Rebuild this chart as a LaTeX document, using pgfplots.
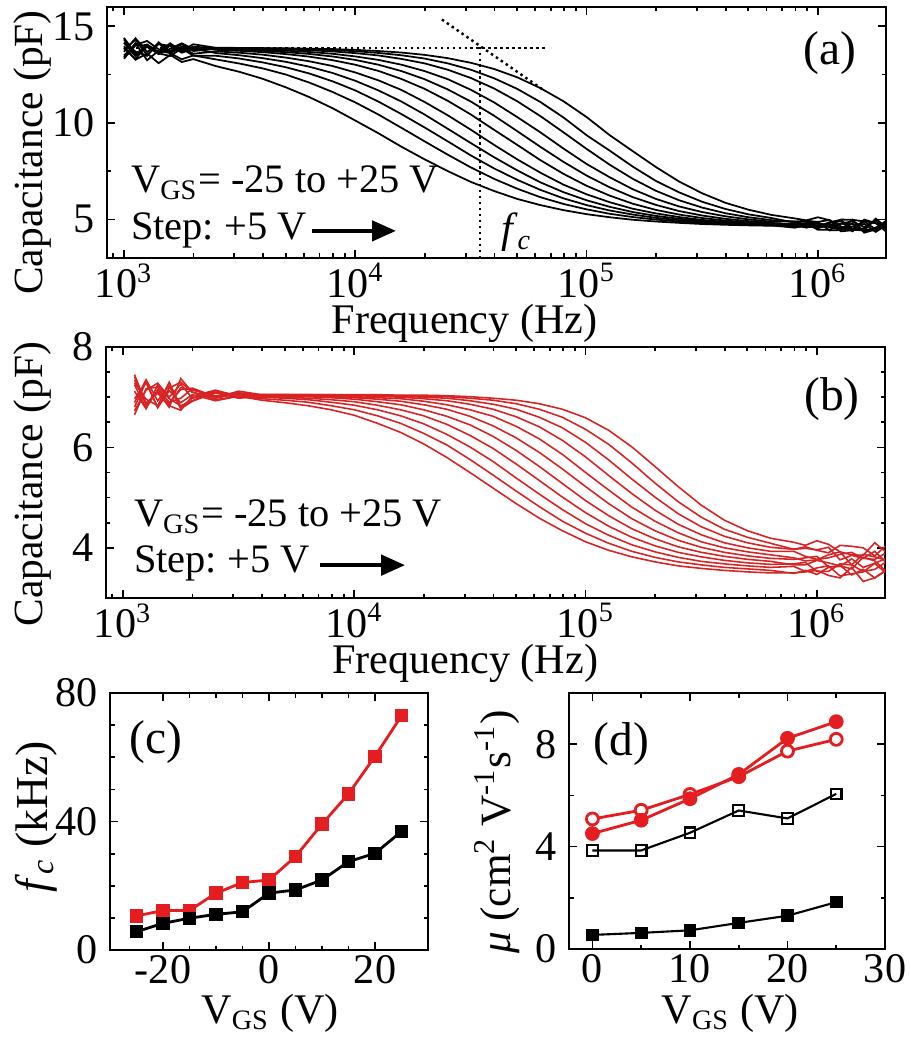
\documentclass[border=0pt]{standalone}
\usepackage{fontspec}
\setmainfont{Liberation Serif}
\usepackage{pgfplots}
\usepackage{pgfplotstable}
\pgfplotsset{compat=1.18}
\usetikzlibrary{arrows.meta}
\frenchspacing

\definecolor{cred}{RGB}{228,30,32}
\definecolor{bred}{RGB}{215,35,35}

% C(f) curves, V_GS = -25 ... +25 V (c0 ... c10)
\pgfplotstableread{
f c0 c1 c2 c3 c4 c5 c6 c7 c8 c9 c10
1e3 13.97 13.41 13.87 13.32 14.15 14.32 13.68 13.49 14.15 13.80 14.40
1.122e3 13.27 14.13 13.30 14.01 13.69 13.52 14.38 14.04 13.45 14.30 13.60
1.259e3 13.59 13.24 14.05 14.03 13.47 13.94 13.67 14.24 14.05 13.50 13.94
1.413e3 13.09 13.74 13.60 13.56 14.17 13.57 14.12 13.81 13.68 14.08 13.58
1.585e3 13.52 13.61 13.46 14.01 13.68 14.02 13.59 13.72 14.12 13.98 13.84
1.778e3 13.15 13.29 13.85 13.63 13.90 13.78 13.95 14.07 13.70 13.74 14.12
1.995e3 13.30 13.49 13.48 13.84 13.58 13.93 13.82 13.72 13.94 14.07 13.82
2.512e3 12.93 13.28 13.47 13.61 13.70 13.78 13.82 13.84 13.87 13.88 13.89
3.162e3 12.64 13.07 13.33 13.50 13.63 13.73 13.78 13.82 13.85 13.87 13.88
3.981e3 12.28 12.82 13.13 13.35 13.53 13.66 13.73 13.79 13.83 13.86 13.87
5.012e3 11.84 12.50 12.88 13.16 13.38 13.56 13.66 13.74 13.80 13.84 13.86
6.310e3 11.34 12.09 12.56 12.91 13.19 13.43 13.57 13.67 13.76 13.81 13.84
7.943e3 10.77 11.61 12.16 12.59 12.95 13.25 13.44 13.58 13.70 13.77 13.82
1e4 10.12 11.06 11.68 12.18 12.61 13.01 13.26 13.44 13.61 13.71 13.78
1.259e4 9.46 10.43 11.10 11.68 12.20 12.69 13.01 13.26 13.49 13.62 13.72
1.585e4 8.76 9.74 10.45 11.10 11.70 12.27 12.68 13.01 13.31 13.50 13.64
1.995e4 8.11 9.04 9.76 10.43 11.08 11.76 12.26 12.68 13.08 13.33 13.52
2.512e4 7.50 8.35 9.04 9.69 10.39 11.14 11.73 12.26 12.75 13.08 13.35
3.162e4 6.94 7.69 8.31 8.95 9.64 10.43 11.10 11.71 12.32 12.75 13.11
3.981e4 6.47 7.10 7.64 8.22 8.86 9.64 10.37 11.06 11.78 12.31 12.79
5.012e4 6.06 6.59 7.05 7.54 8.11 8.86 9.57 10.30 11.12 11.76 12.36
6.310e4 5.74 6.15 6.53 6.92 7.42 8.07 8.76 9.51 10.35 11.08 11.80
7.943e4 5.48 5.80 6.09 6.41 6.80 7.36 7.98 8.67 9.51 10.28 11.12
1e5 5.27 5.52 5.74 5.99 6.30 6.74 7.27 7.87 8.65 9.36 10.30
1.259e5 5.11 5.29 5.46 5.65 5.89 6.23 6.66 7.18 7.83 8.56 9.36
1.585e5 4.98 5.12 5.25 5.38 5.55 5.81 6.15 6.56 7.10 7.73 8.53
1.995e5 4.89 4.99 5.08 5.18 5.31 5.49 5.75 6.06 6.48 6.99 7.71
2.512e5 4.82 4.89 4.96 5.03 5.12 5.25 5.43 5.67 5.99 6.40 6.96
3.162e5 4.76 4.82 4.87 4.92 4.97 5.07 5.20 5.38 5.61 5.91 6.35
3.981e5 4.72 4.76 4.80 4.83 4.87 4.94 5.03 5.16 5.32 5.54 5.86
5.012e5 4.69 4.72 4.74 4.77 4.80 4.84 4.91 5.00 5.11 5.26 5.50
6.310e5 4.67 4.69 4.71 4.72 4.74 4.77 4.82 4.88 4.96 5.07 5.23
7.943e5 4.68 4.57 4.76 4.75 4.61 4.74 4.71 4.89 4.89 4.83 5.05
8.913e5 4.74 4.69 4.57 4.81 4.63 4.80 4.60 4.70 4.93 4.92 4.95
1e6 4.80 4.53 4.70 4.46 4.79 4.87 4.63 4.58 4.87 4.78 5.11
1.122e6 4.59 4.82 4.78 4.46 4.69 4.43 4.85 4.65 4.97 4.66 4.96
1.259e6 4.48 4.91 4.38 4.77 4.56 4.45 4.98 4.79 4.45 4.99 4.63
1.413e6 4.98 4.50 4.44 4.75 4.40 4.80 4.39 4.90 4.63 4.98 4.46
1.585e6 4.31 4.77 4.54 4.43 4.99 4.37 4.91 4.60 4.47 4.89 4.43
1.778e6 4.48 4.35 4.95 4.53 4.81 4.58 4.80 4.95 4.43 4.48 5.04
1.995e6 4.87 4.73 4.46 4.91 4.32 4.85 4.62 4.42 4.77 4.99 4.56
}\tabA

\pgfplotstableread{
f c0 c1 c2 c3 c4 c5 c6 c7 c8 c9 c10
1.122e3 7.35 6.80 7.12 6.65 7.29 7.41 6.89 6.73 7.25 6.97 7.45
1.259e3 6.88 7.31 6.77 7.17 6.96 6.84 7.35 7.14 6.78 7.29 6.87
1.413e3 7.10 6.79 7.24 7.20 6.83 7.10 6.93 7.28 7.15 6.80 7.08
1.585e3 6.80 7.13 6.97 6.89 7.30 6.85 7.23 7.00 6.90 7.18 6.83
1.778e3 7.37 6.89 6.83 7.15 6.80 7.19 6.77 7.26 6.98 7.30 6.74
1.995e3 7.10 7.05 6.93 7.18 6.98 7.14 6.92 6.98 7.17 7.10 7.02
2.512e3 6.95 6.93 7.12 7.01 7.09 7.03 7.09 7.13 6.98 6.99 7.14
3.162e3 7.02 7.02 6.99 7.09 6.98 7.08 7.05 7.00 7.07 7.12 7.02
3.981e3 6.94 6.97 7.00 7.02 7.03 7.04 7.04 7.05 7.05 7.05 7.05
5.012e3 6.89 6.94 6.98 7.00 7.02 7.03 7.04 7.05 7.05 7.05 7.05
6.310e3 6.83 6.90 6.95 6.98 7.01 7.02 7.04 7.04 7.05 7.05 7.05
7.943e3 6.75 6.83 6.90 6.95 6.99 7.01 7.03 7.04 7.04 7.05 7.05
1e4 6.64 6.75 6.84 6.91 6.96 6.99 7.01 7.03 7.04 7.04 7.05
1.259e4 6.48 6.63 6.75 6.84 6.91 6.96 6.99 7.02 7.03 7.04 7.05
1.585e4 6.30 6.48 6.63 6.75 6.85 6.92 6.97 7.00 7.02 7.03 7.04
1.995e4 6.07 6.28 6.47 6.63 6.75 6.85 6.92 6.97 7.00 7.02 7.04
2.512e4 5.80 6.05 6.26 6.46 6.62 6.76 6.85 6.93 6.98 7.01 7.03
3.162e4 5.50 5.76 6.01 6.24 6.45 6.62 6.75 6.86 6.93 6.98 7.01
3.981e4 5.19 5.45 5.72 5.98 6.22 6.43 6.62 6.76 6.86 6.94 6.98
5.012e4 4.88 5.13 5.39 5.67 5.94 6.19 6.42 6.61 6.76 6.87 6.94
6.310e4 4.59 4.82 5.07 5.34 5.62 5.90 6.17 6.41 6.60 6.76 6.87
7.943e4 4.34 4.53 4.76 5.01 5.28 5.57 5.86 6.14 6.39 6.60 6.76
1e5 4.12 4.29 4.48 4.70 4.94 5.22 5.50 5.81 6.10 6.36 6.59
1.259e5 3.95 4.09 4.25 4.43 4.64 4.88 5.15 5.44 5.75 6.06 6.34
1.585e5 3.82 3.93 4.06 4.21 4.38 4.58 4.81 5.08 5.37 5.69 6.01
1.995e5 3.72 3.81 3.92 4.04 4.18 4.34 4.53 4.75 5.01 5.29 5.62
2.512e5 3.64 3.72 3.81 3.91 4.02 4.15 4.30 4.47 4.68 4.92 5.22
3.162e5 3.59 3.66 3.73 3.82 3.91 4.01 4.12 4.26 4.42 4.61 4.85
3.981e5 3.55 3.61 3.68 3.75 3.83 3.91 4.00 4.10 4.23 4.37 4.55
5.012e5 3.52 3.58 3.64 3.70 3.77 3.84 3.92 4.00 4.10 4.21 4.34
6.310e5 3.50 3.55 3.61 3.67 3.73 3.79 3.86 3.93 4.01 4.09 4.19
7.943e5 3.50 3.49 3.63 3.68 3.66 3.77 3.80 3.93 3.97 3.97 4.11
8.913e5 3.52 3.55 3.53 3.71 3.66 3.80 3.74 3.83 3.99 4.02 4.05
1e6 3.55 3.47 3.60 3.53 3.75 3.83 3.76 3.77 3.96 3.95 4.14
1.122e6 3.45 3.61 3.64 3.53 3.70 3.62 3.86 3.80 4.01 3.90 4.07
1.259e6 3.40 3.65 3.44 3.68 3.64 3.63 3.92 3.87 3.76 4.05 3.92
1.413e6 3.61 3.46 3.48 3.66 3.58 3.78 3.66 3.91 3.85 4.03 3.86
1.585e6 3.33 3.57 3.52 3.53 3.81 3.61 3.87 3.79 3.79 4.00 3.85
1.778e6 3.40 3.40 3.69 3.57 3.74 3.69 3.82 3.93 3.77 3.84 4.10
1.995e6 3.56 3.55 3.49 3.72 3.53 3.79 3.75 3.71 3.90 4.05 3.91
}\tabB

\tikzset{
  note/.style={anchor=base west, font=\fontsize{11.5}{13}\selectfont},
  plab/.style={font=\fontsize{13.5}{15}\selectfont},
}

\pgfplotsset{
  panel/.style={
    scale only axis,
    anchor=north west,
    font=\fontsize{12}{14}\selectfont,
    tick label style={font=\fontsize{12}{14}\selectfont},
    xticklabel style={yshift=2pt},
    /pgf/number format/assume math mode=true,
    axis line style={line width=0.6pt},
    major tick length=0.8mm,
    minor tick length=0.45mm,
    every tick/.style={black,line width=0.5pt},
    xlabel style={font=\fontsize{12}{14}\selectfont, anchor=base},
    ylabel style={font=\fontsize{11.8}{14}\selectfont, anchor=center},
  },
  logf/.style={
    xmin=845, xmax=1.97e6,
    xtick={1e3,1e4,1e5,1e6},
    xticklabels={10\textsuperscript{3},10\textsuperscript{4},10\textsuperscript{5},10\textsuperscript{6}},
    minor xtick={900,2e3,3e3,4e3,5e3,6e3,7e3,8e3,9e3,2e4,3e4,4e4,5e4,6e4,7e4,8e4,9e4,
                 2e5,3e5,4e5,5e5,6e5,7e5,8e5,9e5},
    xlabel={Frequency (Hz)},
    ylabel={Capacitance (pF)},
  },
}

\begin{document}
\begin{tikzpicture}
\path[use as bounding box] (0,0) rectangle (9.1,-10.4);

% (a)
\begin{axis}[xmode=log, panel, logf, at={(1.07cm,-0.07cm)}, width=7.79cm, height=2.51cm,
  ymin=3, ymax=16, ytick={5,10,15}, minor ytick={7.5,12.5},
  xlabel style={at={(axis description cs:0.459,-0.30)}},
  ylabel style={at={(axis description cs:-0.096,0.42)}}]
\pgfplotsinvokeforeach{0,...,10}{
  \addplot[black, line width=0.5pt] table[x=f, y=c#1] {\tabA};
}
\addplot[black, line width=0.7pt, densely dotted] coordinates {(1e3,13.88) (6.7e4,13.88)};
\addplot[black, line width=0.7pt, densely dotted] coordinates {(3.47e4,13.95) (3.47e4,3)};
\addplot[black, line width=0.7pt, densely dotted] coordinates {(2.37e4,15.35) (6.6e4,11.65)};
\node[note] at (rel axis cs:0.015,0.259) {V\textsubscript{GS}= -25 to +25 V};
\node[note] at (rel axis cs:0.015,0.072) {Step: +5 V};
\draw[line width=1.3pt, -{Triangle[length=2.4mm,width=2mm]}]
  (rel axis cs:0.263,0.108) -- (rel axis cs:0.371,0.108);
\node[anchor=base west] at (rel axis cs:0.49,0.06) {\textit{f}\textsubscript{\textit{c}}};
\node[plab] at (rel axis cs:0.928,0.817) {(a)};
\end{axis}

% (b)
\begin{axis}[xmode=log, panel, logf, at={(1.06cm,-3.47cm)}, width=7.79cm, height=2.51cm,
  ymin=3, ymax=8, ytick={4,6,8}, minor tick num=3,
  xlabel style={at={(axis description cs:0.461,-0.30)}},
  ylabel style={at={(axis description cs:-0.094,0.454)}}]
\pgfplotsinvokeforeach{0,...,10}{
  \addplot[bred, line width=0.45pt] table[x=f, y=c#1] {\tabB};
}
\node[note] at (rel axis cs:0.02,0.284) {V\textsubscript{GS}= -25 to +25 V};
\node[note] at (rel axis cs:0.02,0.10) {Step: +5 V};
\draw[line width=1.3pt, -{Triangle[length=2.4mm,width=2mm]}]
  (rel axis cs:0.275,0.131) -- (rel axis cs:0.384,0.131);
\node[plab] at (rel axis cs:0.932,0.793) {(b)};
\end{axis}

% (c)
\begin{axis}[panel, at={(1.10cm,-6.93cm)}, width=3.18cm, height=2.57cm,
  xmin=-30, xmax=30, ymin=0, ymax=80,
  xtick={-20,0,20}, ytick={0,40,80}, minor tick num=3,
  xlabel={V\textsubscript{GS} (V)},
  ylabel={\textit{f}\textsubscript{\textit{c}} (kHz)},
  xlabel style={at={(axis description cs:0.503,-0.285)}},
  ylabel style={at={(axis description cs:-0.233,0.518)}, font=\fontsize{13}{15}\selectfont}]
\addplot[cred, line width=0.8pt, mark=square*, mark size=1.5pt] coordinates {
(-25,10.6) (-20,12.3) (-15,12.3) (-10,17.7) (-5,21.0) (0,21.8)
(5,29.1) (10,39.2) (15,48.6) (20,60.3) (25,72.9)};
\addplot[black, line width=0.8pt, mark=square*, mark size=1.5pt] coordinates {
(-25,5.7) (-20,8.3) (-15,9.9) (-10,11.1) (-5,11.9) (0,17.7)
(5,18.7) (10,21.8) (15,27.5) (20,30.1) (25,36.9)};
\node[plab] at (rel axis cs:0.145,0.81) {(c)};
\end{axis}

% (d)
\begin{axis}[panel, at={(5.69cm,-6.93cm)}, width=3.16cm, height=2.56cm,
  xmin=-2.4, xmax=30, ymin=0, ymax=10,
  xtick={0,10,20,30}, minor xtick={5,15,25},
  ytick={0,4,8}, minor ytick={2,6,10},
  xlabel={V\textsubscript{GS} (V)},
  ylabel={\textit{μ} (cm\textsuperscript{2} V\textsuperscript{-1}s\textsuperscript{-1})},
  xlabel style={at={(axis description cs:0.51,-0.29)}},
  ylabel style={at={(axis description cs:-0.228,0.457)}, font=\fontsize{12.3}{14}\selectfont}]
\addplot[black, line width=0.6pt, mark=square, mark size=1.5pt, mark options={fill=white}] coordinates {
(0,3.85) (5,3.85) (10,4.54) (15,5.41) (20,5.10) (25,6.06)};
\addplot[black, line width=0.6pt, mark=square*, mark size=1.5pt] coordinates {
(0,0.55) (5,0.63) (10,0.73) (15,1.02) (20,1.30) (25,1.83)};
\addplot[cred, line width=0.8pt, mark=*, mark size=1.7pt, mark options={fill=white}] coordinates {
(0,5.08) (5,5.42) (10,6.04) (15,6.73) (20,7.73) (25,8.19)};
\addplot[cred, line width=0.8pt, mark=*, mark size=1.7pt] coordinates {
(0,4.51) (5,5.03) (10,5.87) (15,6.82) (20,8.23) (25,8.88)};
\node[plab] at (rel axis cs:0.165,0.80) {(d)};
\end{axis}
\end{tikzpicture}
\end{document}
